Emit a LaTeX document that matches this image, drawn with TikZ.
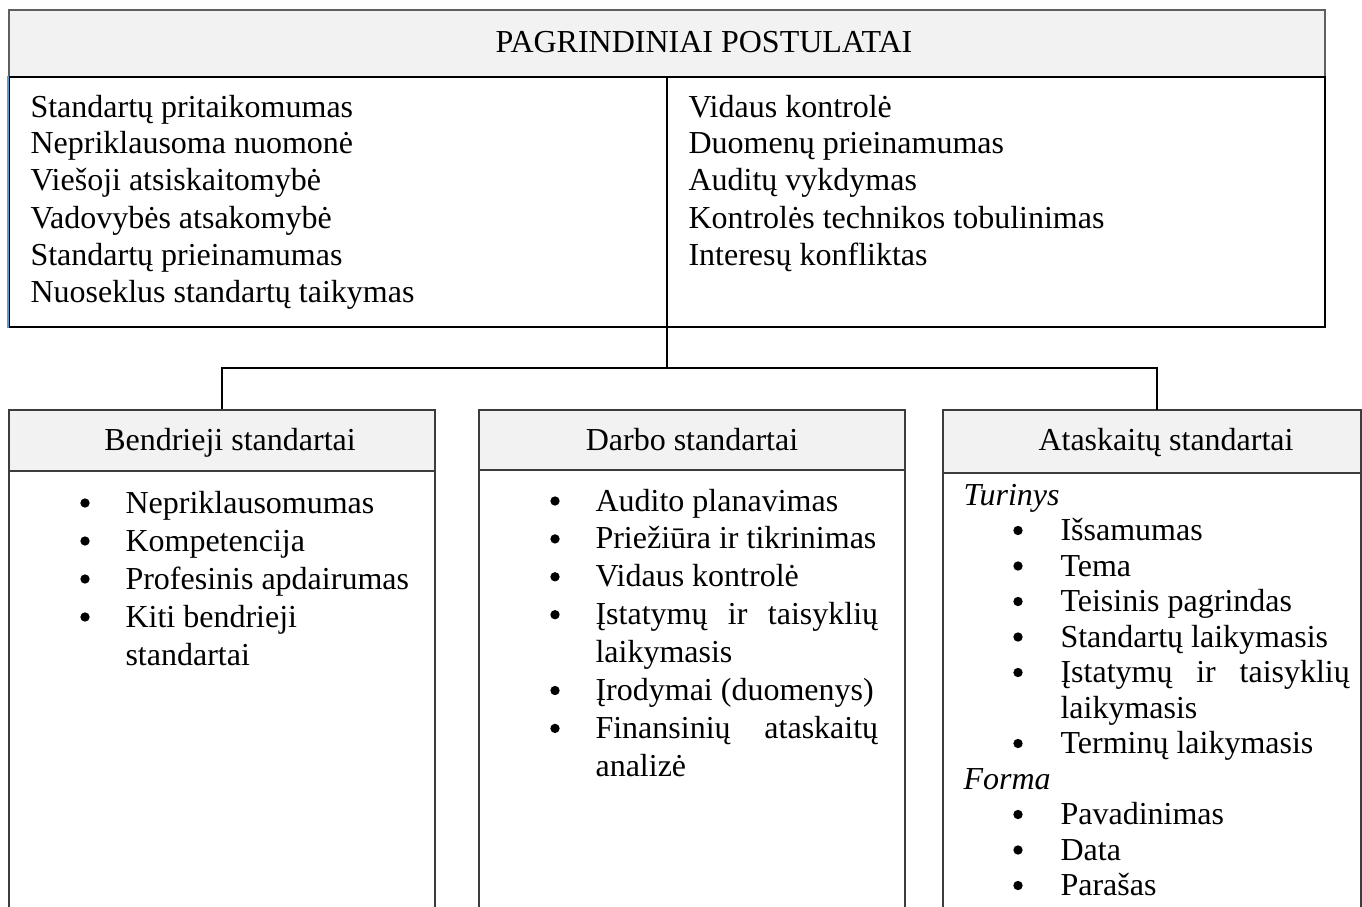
\documentclass[tikz,border=0pt]{standalone}
\usepackage{fontspec}
\setmainfont{Liberation Serif}
\usetikzlibrary{fit}

\definecolor{hdrfill}{RGB}{242,242,242}
\definecolor{hdrline}{RGB}{95,95,95}
\definecolor{boxline}{RGB}{60,60,60}
\definecolor{edgeblue}{RGB}{91,155,213}

\begin{document}
\begin{tikzpicture}[x=0.375pt, y=-0.375pt,
  every node/.style={font=\fontsize{12}{14}\selectfont},
  hdrbox/.style={draw=hdrline, fill=hdrfill, line width=0.7pt, inner sep=0pt},
  tablebox/.style={draw=black, fill=white, line width=0.7pt, inner sep=0pt},
  stdhead/.style={draw=boxline, fill=hdrfill, line width=0.7pt, inner sep=0pt},
  stdbody/.style={draw=boxline, line width=0.7pt, inner sep=0pt},
  txt/.style={anchor=base west, inner sep=0pt},
  title/.style={anchor=base, inner sep=0pt},
  dot/.style={circle, fill=black, inner sep=0pt, minimum size=3.5pt},
  conn/.style={draw=black, line width=0.75pt}]

\useasboundingbox (0,0) rectangle (1362,906);
\clip (0,0) rectangle (1362,906);

% ---- principal postulates: title bar and two-column table
\node[hdrbox, fit={(9,10) (1325,77)}] (ph) {};
\node[tablebox, fit={(9,77) (1325,327)}] (pt) {};
\draw[edgeblue, line width=0.6pt] (pt.north west) -- (pt.south west);
\draw[black, line width=0.7pt] (ph.south) -- (pt.south);
\node[title] (ptitle) at (704,53) {PAGRINDINIAI POSTULATAI};

\foreach \t [count=\i from 0] in {Standartų pritaikomumas, Nepriklausoma nuomonė,
    Viešoji atsiskaitomybė, Vadovybės atsakomybė, Standartų prieinamumas,
    Nuoseklus standartų taikymas}
  \node[txt] (pl\i) at (30,{117+37*\i}) {\t};

\foreach \t [count=\i from 0] in {Vidaus kontrolė, Duomenų prieinamumas,
    Auditų vykdymas, Kontrolės technikos tobulinimas, Interesų konfliktas}
  \node[txt] (pr\i) at (688,{117+37*\i}) {\t};

% ---- the three groups of standards
\node[stdhead, fit={(9,410) (435,471)}] (b1h) {};
\node[stdbody, fit={(9,471) (435,940)}] (b1b) {};
\node[stdhead, fit={(479,410) (905,470)}] (b2h) {};
\node[stdbody, fit={(479,470) (905,940)}] (b2b) {};
\node[stdhead, fit={(943,410) (1361,473)}] (b3h) {};
\node[stdbody, fit={(943,473) (1361,940)}] (b3b) {};

\node[title] (b1title) at (230,450) {Bendrieji standartai};
\node[title] (b2title) at (692,450) {Darbo standartai};
\node[title] (b3title) at (1166,450) {Ataskaitų standartai};

% general standards
\foreach \t [count=\i from 0] in {Nepriklausomumas, Kompetencija,
    Profesinis apdairumas, Kiti bendrieji, standartai}
  \node[txt] (g\i) at (125,{513+38*\i}) {\t};
\foreach \r in {0,1,2,3}
  \node[dot] (gd\r) at (85,{503+38*\r}) {};

% fieldwork standards
\foreach \t [count=\i from 0] in {Audito planavimas, Priežiūra ir tikrinimas,
    Vidaus kontrolė, {\makebox[106pt][s]{Įstatymų ir taisyklių}}, laikymasis,
    Įrodymai (duomenys), {\makebox[106pt][s]{Finansinių ataskaitų}}, analizė}
  \node[txt] (w\i) at (595,{511+37.9*\i}) {\t};
\foreach \r in {0,1,2,3,5,6}
  \node[dot] (wd\r) at (555,{501+37.9*\r}) {};

% reporting standards
\node[txt, font=\fontsize{12}{14}\selectfont\itshape] (rturinys) at (963,505) {Turinys};
\node[txt, font=\fontsize{12}{14}\selectfont\itshape] (rforma) at (963,789) {Forma};
\foreach \t [count=\i from 1] in {Išsamumas, Tema, Teisinis pagrindas,
    Standartų laikymasis, {\makebox[108.5pt][s]{Įstatymų ir taisyklių}},
    laikymasis, Terminų laikymasis}
  \node[txt] (r\i) at (1060,{505+35.5*\i}) {\t};
\foreach \t [count=\i from 9] in {Pavadinimas, Data, Parašas}
  \node[txt] (r\i) at (1060,{505+35.5*\i}) {\t};
\foreach \r in {1,2,3,4,5,7,9,10,11}
  \node[dot] (rd\r) at (1018,{495+35.5*\r}) {};

% ---- connectors from the postulates down to the groups
\coordinate (bus) at (667,368);
\coordinate (b3in) at (1157,410);
\draw[conn] (pt.south) -- (bus);
\draw[conn] (b1h.north) |- (bus) -| (b3in);

\end{tikzpicture}
\end{document}
